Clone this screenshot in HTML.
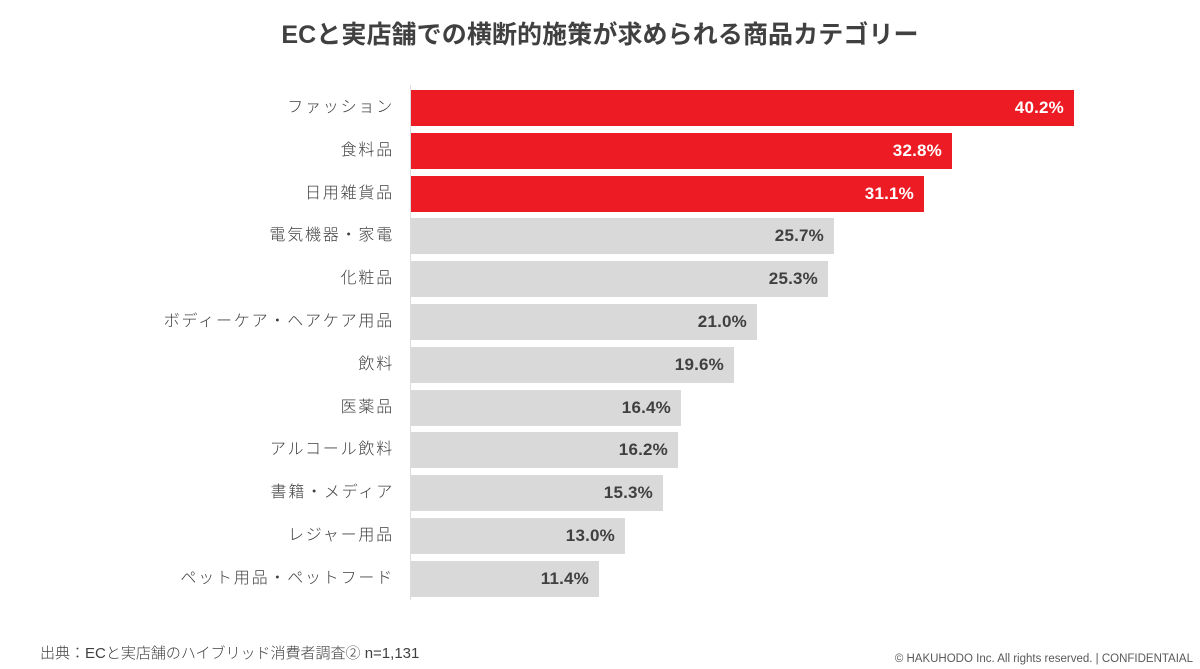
<!DOCTYPE html>
<html lang="ja">
<head>
<meta charset="utf-8">
<style>
  html, body { margin: 0; padding: 0; }
  body { width: 1200px; height: 669px; background: #ffffff; position: relative; overflow: hidden;
         font-family: "Liberation Sans", "Noto Sans CJK JP", sans-serif; }
  .title { position: absolute; left: 0; width: 1200px; top: 17px; text-align: center;
           font-size: 25px; font-weight: bold; color: #404040; line-height: 36px;
           font-family: "Liberation Sans", "Noto Sans CJK JP", sans-serif; letter-spacing: 0.1px; }
  .axis { position: absolute; left: 410px; top: 85px; width: 1px; height: 515px; background: #dcdcdc; }
  .bar { position: absolute; left: 411px; height: 36px; }
  .red { background: #ed1c24; }
  .gray { background: #d9d9d9; }
  .val { position: absolute; right: 10px; top: 0; line-height: 36px; font-size: 17px; font-weight: bold;
         font-family: "Liberation Sans", sans-serif; letter-spacing: 0.2px; }
  .red .val { color: #ffffff; }
  .gray .val { color: #404040; }
  .lab { position: absolute; right: 806px; height: 36px; line-height: 36px; font-size: 16px;
         color: #404040; white-space: nowrap; letter-spacing: 1.8px;
         font-family: "Liberation Sans", "Noto Sans CJK JP", sans-serif; font-weight: 300; }
  .foot1 { position: absolute; left: 40px; top: 643px; font-size: 15px; line-height: 22px; color: #404040;
           font-family: "Liberation Sans", "Noto Sans CJK JP", sans-serif; font-weight: 300; }
  .foot2 { position: absolute; right: 7px; top: 651px; font-size: 11.5px; line-height: 16px; color: #595959;
           font-family: "Liberation Sans", sans-serif; }
</style>
</head>
<body>
<div class="title">ECと実店舗での横断的施策が求められる商品カテゴリー</div>
<div class="axis"></div>

<div class="lab" style="top:90px">ファッション</div>
<div class="bar red" style="top:90px;width:663px"><span class="val">40.2%</span></div>

<div class="lab" style="top:132.8px">食料品</div>
<div class="bar red" style="top:132.8px;width:541px"><span class="val">32.8%</span></div>

<div class="lab" style="top:175.6px">日用雑貨品</div>
<div class="bar red" style="top:175.6px;width:513px"><span class="val">31.1%</span></div>

<div class="lab" style="top:218.4px">電気機器・家電</div>
<div class="bar gray" style="top:218.4px;width:423px"><span class="val">25.7%</span></div>

<div class="lab" style="top:261.2px">化粧品</div>
<div class="bar gray" style="top:261.2px;width:417px"><span class="val">25.3%</span></div>

<div class="lab" style="top:304px">ボディーケア・ヘアケア用品</div>
<div class="bar gray" style="top:304px;width:346px"><span class="val">21.0%</span></div>

<div class="lab" style="top:346.8px">飲料</div>
<div class="bar gray" style="top:346.8px;width:323px"><span class="val">19.6%</span></div>

<div class="lab" style="top:389.6px">医薬品</div>
<div class="bar gray" style="top:389.6px;width:270px"><span class="val">16.4%</span></div>

<div class="lab" style="top:432.4px">アルコール飲料</div>
<div class="bar gray" style="top:432.4px;width:267px"><span class="val">16.2%</span></div>

<div class="lab" style="top:475.2px">書籍・メディア</div>
<div class="bar gray" style="top:475.2px;width:252px"><span class="val">15.3%</span></div>

<div class="lab" style="top:518px">レジャー用品</div>
<div class="bar gray" style="top:518px;width:214px"><span class="val">13.0%</span></div>

<div class="lab" style="top:560.8px">ペット用品・ペットフード</div>
<div class="bar gray" style="top:560.8px;width:188px"><span class="val">11.4%</span></div>

<div class="foot1">出典：ECと実店舗のハイブリッド消費者調査② n=1,131</div>
<div class="foot2">© HAKUHODO Inc. All rights reserved. | CONFIDENTAIAL</div>
</body>
</html>
